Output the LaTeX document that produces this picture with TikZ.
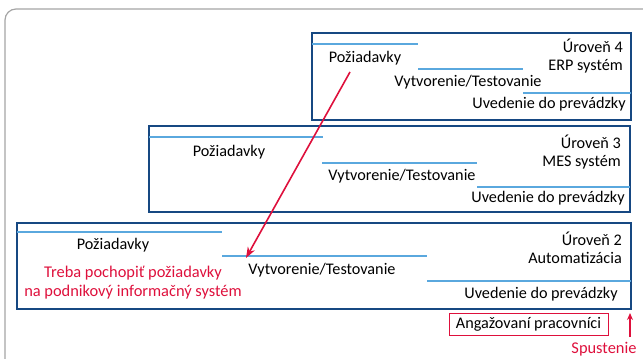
\documentclass[tikz,border=0pt]{standalone}
\usepackage{fontspec}
\setmainfont{Carlito}
\usetikzlibrary{arrows.meta}
\definecolor{boxblue}{RGB}{22,72,130}
\definecolor{lineblue}{RGB}{90,168,222}
\definecolor{myred}{RGB}{222,16,60}
\definecolor{outergray}{RGB}{165,165,165}
\tikzset{
  lvlbox/.style={draw=boxblue, line width=2pt},
  phase/.style={draw=lineblue, line width=1.8pt},
  lbl/.style={font=\fontsize{16.2}{18}\selectfont, inner sep=0pt, text=black},
  redlbl/.style={font=\fontsize{16.4}{19}\selectfont, inner sep=0pt, text=myred},
}
\begin{document}
\begin{tikzpicture}[x=1pt,y=-1pt]
\useasboundingbox (0,0) rectangle (643,359);
\draw[outergray, line width=1.2pt, rounded corners=11pt] (5,9) rectangle (660,372);

% level boxes
\draw[lvlbox] (312,33) rectangle (631,120);
\draw[lvlbox] (149,126) rectangle (630,212);
\draw[lvlbox] (17,223) rectangle (631,309);

% level 4
\draw[phase] (312,44) -- (418,44);
\draw[phase] (418,69) -- (523,69);
\draw[phase] (523,93) -- (631,93);
\node[lbl] (p4) at (365,58) {Požiadavky};
\node[lbl] (v4) at (468,82) {Vytvorenie/Testovanie};
\node[lbl] (u4) at (549,104) {Uvedenie do prevádzky};
\node[lbl, align=right, anchor=east] (l4) at (623,56) {Úroveň 4\\ERP systém};

% level 3
\draw[phase] (149,137) -- (323,137);
\draw[phase] (322,163) -- (477,163);
\draw[phase] (477,187) -- (630,187);
\node[lbl] (p3) at (229,152) {Požiadavky};
\node[lbl] (v3) at (402,176) {Vytvorenie/Testovanie};
\node[lbl] (u3) at (548,198) {Uvedenie do prevádzky};
\node[lbl, align=right, anchor=east] (l3) at (621,152) {Úroveň 3\\MES systém};

% level 2
\draw[phase] (17,232) -- (222,232);
\draw[phase] (222,256) -- (427,256);
\draw[phase] (427,281) -- (631,281);
\node[lbl] (p2) at (113,245) {Požiadavky};
\node[lbl] (v2) at (322,270) {Vytvorenie/Testovanie};
\node[lbl] (u2) at (541,294) {Uvedenie do prevádzky};
\node[lbl, align=right, anchor=east] (l2) at (622,248) {Úroveň 2\\Automatizácia};

% red annotation
\node[redlbl, align=center] (req) at (133,283) {Treba pochopiť požiadavky\\na podnikový informačný systém};
\coordinate (rs) at (350,72);
\coordinate (re) at (246,258);
\draw[myred, line width=1.6pt, -{Stealth[length=11pt,width=8pt]}] (rs) -- (re);

% bottom
\node[draw=myred, line width=1pt, minimum width=159pt, minimum height=22pt, lbl] (ang) at (528.5,324.5) {Angažovaní pracovníci};
\coordinate (sa) at (630,337);
\coordinate (sb) at (630,313);
\draw[myred, line width=1.4pt, -{Stealth[length=7pt,width=6pt]}] (sa) -- (sb);
\node[redlbl] (sp) at (604,349) {Spustenie};
\end{tikzpicture}
\end{document}
